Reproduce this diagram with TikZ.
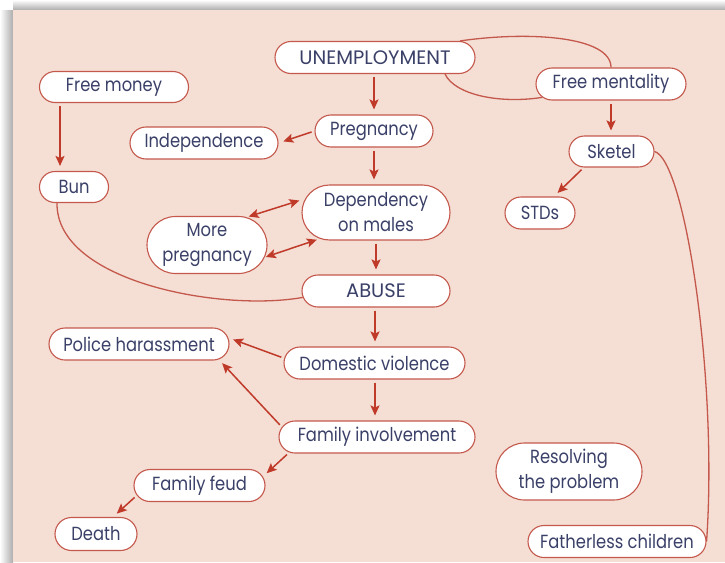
\documentclass[tikz,border=0pt]{standalone}
\usepackage{fontspec}
\setmainfont[FakeStretch=0.86]{Poppins}
\usetikzlibrary{shapes.misc,arrows.meta}
\definecolor{bg}{RGB}{245,223,212}
\definecolor{bord}{RGB}{196,88,76}
\definecolor{arrc}{RGB}{192,58,42}
\definecolor{txt}{RGB}{58,64,104}
\begin{document}
\begin{tikzpicture}[x=1pt,y=-1pt,
  nd/.style={rounded rectangle, draw=bord, line width=1.1pt, fill=white, text=txt,
    font=\fontsize{19}{25}\selectfont, inner sep=0pt, align=center, minimum height=32pt},
  caps/.style={font=\fontsize{19.5}{25}\selectfont\addfontfeature{FakeStretch=1.0}},
  arr/.style={draw=arrc, line width=1.5pt, -{Stealth[length=10pt,width=9pt,inset=2pt]},
    shorten <=3pt, shorten >=5pt},
  dbl/.style={draw=arrc, line width=1.5pt,
    {Stealth[length=10pt,width=9pt,inset=2pt]}-{Stealth[length=10pt,width=9pt,inset=2pt]},
    shorten <=3pt, shorten >=5pt},
  link/.style={draw=bord, line width=1.3pt}]
\useasboundingbox (0,0) rectangle (725,562);
\fill[white] (0,0) rectangle (725,562);
\shade[left color=white, right color=gray!65] (0,10) rectangle (13,562);
\shade[top color=white, bottom color=gray!65] (13,0) rectangle (725,10);
\fill[bg] (13,10) rectangle (725,562);

\node[nd, caps, minimum width=200pt] (U) at (375,57.5) {UNEMPLOYMENT};
\node[nd, minimum width=149pt, minimum height=31pt] (FMon) at (114,87) {Free money};
\node[nd, minimum width=150pt] (FMen) at (611,84) {Free mentality};
\node[nd, minimum width=118pt] (P) at (374,131) {Pregnancy};
\node[nd, minimum width=148pt] (Ind) at (204,143) {Independence};
\node[nd, minimum width=85pt, minimum height=31pt] (Sk) at (611.5,151.5) {Sketel};
\node[nd, minimum width=69pt, minimum height=31pt] (Bun) at (74,187) {Bun};
\node[nd, minimum width=70pt] (STD) at (540,213) {STDs};
\node[nd, minimum width=148pt, minimum height=55pt] (Dep) at (376,212.5) {Dependency\\on males};
\node[nd, minimum width=120pt, minimum height=57pt] (MP) at (207,245) {More\\pregnancy};
\node[nd, caps, minimum width=148pt] (AB) at (376,291) {ABUSE};
\node[nd, minimum width=180pt] (PH) at (139,344) {Police harassment};
\node[nd, minimum width=181pt] (DV) at (374.5,363) {Domestic violence};
\node[nd, minimum width=196pt] (FI) at (377,437) {Family involvement};
\node[nd, minimum width=146pt, minimum height=57pt] (RP) at (569,471.5) {Resolving\\the problem};
\node[nd, minimum width=131pt] (FF) at (199.5,485.5) {Family feud};
\node[nd, minimum width=82pt, minimum height=33pt] (D) at (96,534) {Death};
\node[nd, minimum width=178pt] (FC) at (617,541.5) {Fatherless children};

% vertical chain
\draw[arr] (P.north |- U.south) -- (P.north);
\draw[arr] (P.south) -- (P.south |- Dep.north);
\draw[arr] (Dep.south) -- (Dep.south |- AB.north);
\draw[arr] ([xshift=0.5pt]DV.north |- AB.south) -- ([xshift=0.5pt]DV.north);
\draw[arr] ([xshift=0.5pt]DV.south) -- ([xshift=0.5pt]DV.south |- FI.north);
\draw[arr] (FMen.south) -- (FMen.south |- Sk.north);
\draw[arr] ([xshift=-14pt]Bun.north |- FMon.south) -- ([xshift=-14pt]Bun.north);

% diagonal arrows
\draw[arr] (P.west) -- (Ind.east);
\draw[arr] (Sk.210) -- (STD.50);
\draw[arr] (DV.177) -- (PH.4);
\draw[arr] (FI.174) -- (PH.-11);
\draw[arr] (FI.190) -- (FF.8);
\draw[arr] (FF.189) -- (D.45);
\draw[dbl, shorten <=2pt, shorten >=6pt] (MP.35) -- (Dep.169);
\draw[dbl, shorten <=1pt, shorten >=3pt] (MP.-12) -- (Dep.205);

% plain links
\draw[link] ([xshift=85pt]U.north) .. controls (528,31) and (611,36) .. (FMen.north);
\draw[link] ([xshift=70pt]U.south) .. controls (455,95) and (500,104) .. (FMen.191);
\draw[link] (Sk.east) .. controls (685,160) and (718,380) .. (FC.east);
\draw[link] ([xshift=-17pt]Bun.south) .. controls (56,282) and (222,312) .. (AB.185);
\end{tikzpicture}
\end{document}
